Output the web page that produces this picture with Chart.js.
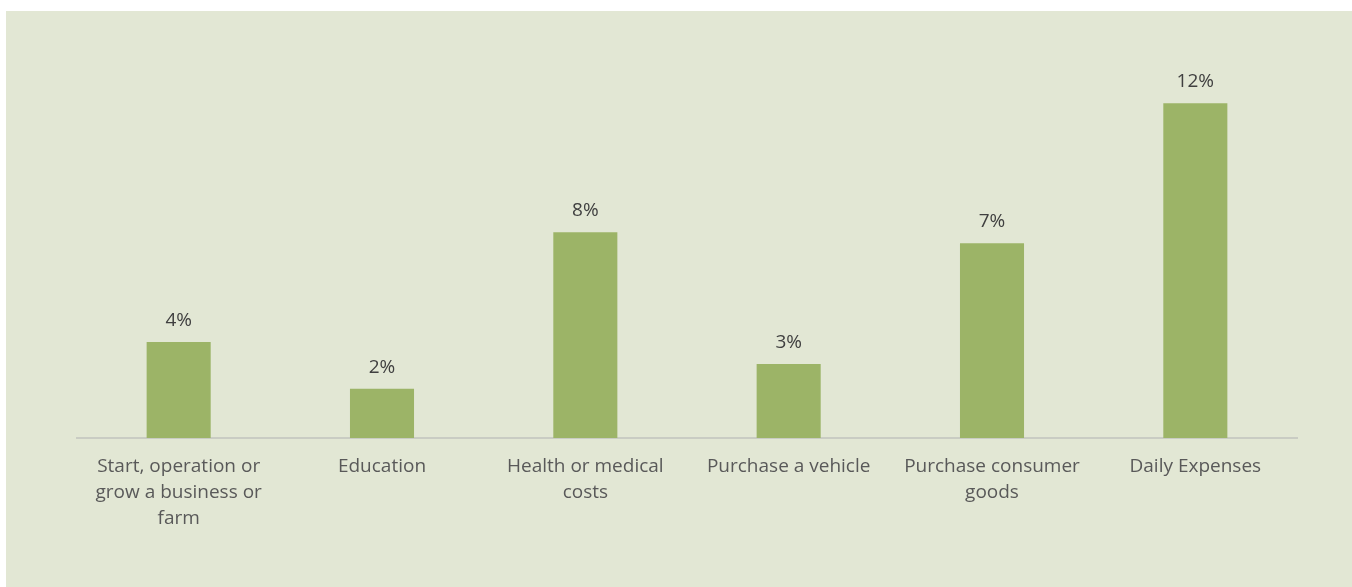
<!DOCTYPE html>
<html>
<head>
<meta charset="utf-8">
<script src="https://cdn.jsdelivr.net/npm/chart.js@4.4.1/dist/chart.umd.min.js"></script>
<style>
  html, body { margin: 0; padding: 0; background: #ffffff; }
  #wrap { position: absolute; left: 6px; top: 11px; width: 1346px; height: 576px; background: #e2e7d4; }
</style>
</head>
<body>
<div id="wrap"><canvas id="purpose-chart"></canvas></div>
<script>
// categories (already split into lines like the original)
var categories = [
    ["Start, operation or", "grow a business or", "farm"],
    ["Education"],
    ["Health or medical", "costs"],
    ["Purchase a vehicle"],
    ["Purchase consumer", "goods"],
    ["Daily Expenses"]
];
// share of respondents, in percent
var shares = [3.5, 1.8, 7.5, 2.7, 7.1, 12.2];

var barColor = "#9cb467";

// draws "x%" above each bar
var valueLabels = {
    id: "valueLabels",
    afterDatasetsDraw: function (chart) {
        var ctx = chart.ctx;
        var meta = chart.getDatasetMeta(0);
        ctx.save();
        ctx.font = "19px 'Open Sans'";
        ctx.fillStyle = "#404040";
        ctx.textAlign = "center";
        ctx.textBaseline = "alphabetic";
        meta.data.forEach(function (bar, i) {
            ctx.fillText(Math.round(shares[i]) + "%", bar.x, bar.y - 16);
        });
        ctx.restore();
    }
};

var chart;
var drawGraph = function () {
    const ctx = document.getElementById('purpose-chart');
    chart = new Chart(ctx, {
        type: "bar",
        data: {
            labels: categories,
            datasets: [{
                data: shares,
                backgroundColor: barColor,
                barPercentage: 0.315,
                categoryPercentage: 1
            }]
        },
        options: {
            responsive: false,
            animation: false,
            layout: {
                padding: { left: 71, right: 55, top: 43, bottom: 0 }
            },
            plugins: {
                legend: { display: false },
                tooltip: { enabled: false }
            },
            scales: {
                y: {
                    display: false,
                    min: 0,
                    max: 14
                },
                x: {
                    grid: { display: false, drawTicks: false },
                    border: { color: "#c9ccc3", width: 2 },
                    ticks: {
                        color: "#595959",
                        padding: 16,
                        maxRotation: 0,
                        autoSkip: false,
                        font: { family: "'Open Sans'", size: 19, lineHeight: 1.37 }
                    },
                    afterFit: function (scale) { scale.height = 149; }
                }
            }
        },
        plugins: [valueLabels]
    });
};

window.addEventListener('DOMContentLoaded', function () {
    var c = document.getElementById('purpose-chart');
    c.width = 1346;
    c.height = 576;
    drawGraph();
});
</script>
</body>
</html>
